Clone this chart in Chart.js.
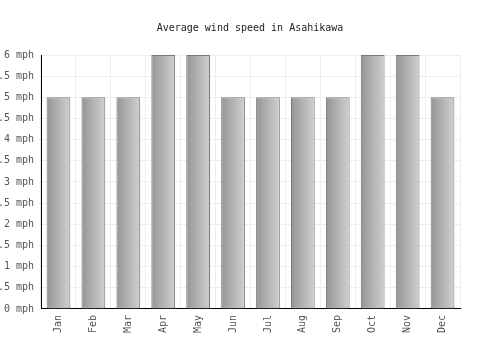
<!DOCTYPE html>
<html>
<head>
<meta charset="utf-8">
<script src="https://cdn.jsdelivr.net/npm/chart.js@4"></script>
<style>
    html, body { margin: 0; padding: 0; background: #fff; }
    #wrap { width: 500px; height: 350px; }
</style>
</head>
<body>
<div id="wrap"><canvas id="windChart" width="500" height="350"></canvas></div>
<script>
const months = ["Jan", "Feb", "Mar", "Apr", "May", "Jun", "Jul", "Aug", "Sep", "Oct", "Nov", "Dec"];
const windSpeed = [5, 5, 5, 6, 6, 5, 5, 5, 5, 6, 6, 5];
const yMax = 6;
const yStep = 0.5;

const fontFamily = "'DejaVu Sans Mono', monospace";
const barPct = 0.68;

// gradient horizontal em cada barra (escuro -> claro)
function barGradient(context) {
    const chart = context.chart;
    const xScale = chart.scales.x;
    if (!xScale || context.dataIndex === undefined) return "#b0b0b0";
    const center = xScale.getPixelForValue(context.dataIndex);
    const half = (xScale.width / months.length) * barPct / 2;
    if (!isFinite(center) || !isFinite(half) || half <= 0) return "#b0b0b0";
    const g = chart.ctx.createLinearGradient(center - half, 0, center + half, 0);
    g.addColorStop(0, "#959595");
    g.addColorStop(1, "#d0d0d0");
    return g;
}

new Chart(document.getElementById("windChart").getContext("2d"), {
    type: "bar",
    data: {
        labels: months,
        datasets: [{
            label: "Average wind speed",
            data: windSpeed,
            backgroundColor: barGradient,
            borderColor: "#7a7a7a",
            borderWidth: 1,
            borderSkipped: false,
            barPercentage: barPct,
            categoryPercentage: 1
        }]
    },
    options: {
        responsive: false,
        animation: false,
        layout: { padding: { left: 0, right: 0, top: 12, bottom: 11 } },
        plugins: {
            legend: { display: false },
            tooltip: { enabled: false },
            title: {
                display: true,
                text: "Average wind speed in Asahikawa",
                color: "#222",
                font: { family: fontFamily, size: 10, weight: "normal" },
                padding: { top: 10, bottom: 21 }
            }
        },
        scales: {
            x: {
                offset: true,
                grid: { color: "#eeeeee", offset: true, drawTicks: false },
                border: { color: "#000", width: 1 },
                ticks: {
                    color: "#555",
                    font: { family: fontFamily, size: 10 },
                    minRotation: 90,
                    maxRotation: 90,
                    padding: 6
                }
            },
            y: {
                min: 0,
                max: yMax,
                grid: { color: "#eeeeee", drawTicks: false },
                border: { color: "#000", width: 1 },
                ticks: {
                    stepSize: yStep,
                    color: "#555",
                    font: { family: fontFamily, size: 10 },
                    padding: 7,
                    callback: v => v + " mph"
                },
                afterFit: scale => { scale.width = 41; }
            },
            // eixo vazio só para reservar a margem da direita
            yRight: {
                position: "right",
                min: 0,
                max: yMax,
                grid: { display: false },
                border: { display: false },
                ticks: { display: false },
                afterFit: scale => { scale.width = 40; }
            }
        }
    }
});
</script>
</body>
</html>
